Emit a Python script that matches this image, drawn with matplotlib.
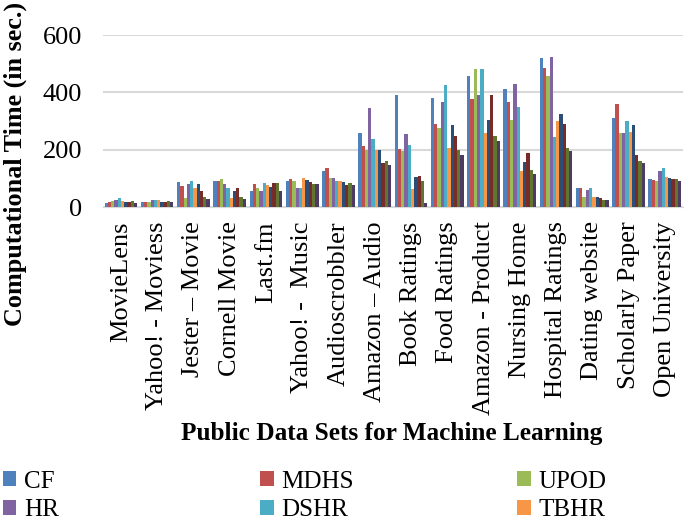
import numpy as np
import matplotlib.pyplot as plt

# data sets on the x axis
datasets = ['MovieLens', 'Yahoo! - Moviess', 'Jester – Movie', 'Cornell Movie',
            'Last.fm', 'Yahoo! -  Music', 'Audioscrobbler', 'Amazon – Audio',
            'Book Ratings', 'Food Ratings', 'Amazon - Product', 'Nursing Home',
            'Hospital Ratings', 'Dating website', 'Scholarly Paper', 'Open University']

# computational time (sec.) per method
cf   = [15, 20, 87, 92, 58, 91, 126, 258, 390, 382, 459, 412, 521, 69, 311, 97]
mdhs = [20, 20, 74, 92, 80, 97, 136, 213, 202, 290, 377, 368, 485, 69, 360, 95]
upod = [23, 20, 32, 100, 66, 90, 101, 201, 195, 275, 480, 305, 459, 35, 260, 91]
hr   = [27, 24, 82, 81, 58, 66, 101, 346, 254, 368, 390, 428, 525, 59, 260, 128]
dshr = [34, 27, 91, 66, 83, 66, 91, 237, 217, 425, 480, 348, 245, 68, 300, 136]
tbhr = [21, 27, 66, 34, 76, 101, 92, 201, 64, 208, 258, 126, 300, 35, 262, 104]
# the remaining four series (their legend entries are cut off in the source)
s7   = [20, 20, 80, 57, 72, 94, 87, 201, 104, 287, 303, 158, 325, 35, 286, 102]
s8   = [20, 20, 58, 67, 85, 89, 77, 153, 108, 249, 390, 188, 290, 33, 183, 100]
s9   = [21, 23, 35, 37, 83, 82, 83, 161, 93, 200, 247, 130, 205, 25, 160, 99]
s10  = [15, 20, 28, 30, 58, 82, 77, 148, 16, 182, 232, 117, 197, 25, 155, 93]

series = [cf, mdhs, upod, hr, dshr, tbhr, s7, s8, s9, s10]
labels = ['CF', 'MDHS', 'UPOD', 'HR', 'DSHR', 'TBHR']
colors = ['#4F81BD', '#C0504D', '#9BBB59', '#8064A2', '#4BACC6', '#F79646',
          '#2C4D75', '#772C2A', '#5F7530', '#4D3B62']

plt.rcParams['font.family'] = 'Liberation Serif'

fig = plt.figure(figsize=(6.85, 5.23), dpi=100)
ax = fig.add_axes([0.150, 0.6036, 0.847, 0.3294])

x = np.arange(len(datasets))
w = 0.09
bars = []
for i, vals in enumerate(series):
    b = ax.bar(x - 0.45 + w * (i + 0.5), vals, width=w, color=colors[i],
               edgecolor='none', zorder=3)
    bars.append(b)

ax.set_xlim(-0.5, len(datasets) - 0.5)
ax.set_ylim(0, 600)
ax.set_yticks([0, 200, 400, 600])
ax.yaxis.grid(True, color='#D9D9D9', linewidth=1.5, zorder=0)
ax.tick_params(axis='y', labelsize=19, length=0, pad=15)
ax.set_xticks(x)
ax.set_xticklabels(datasets, rotation=90, fontsize=19)
ax.tick_params(axis='x', length=0, pad=10)
for s in ['top', 'right', 'left']:
    ax.spines[s].set_visible(False)
ax.spines['bottom'].set_color('#D9D9D9')

fig.text(0.022, 0.686, 'Computational Time (in sec.)', rotation=90,
         fontsize=18.8, fontweight='bold', ha='center', va='center')
fig.text(0.572, 0.172, 'Public Data Sets for Machine Learning',
         fontsize=18.2, fontweight='bold', ha='center', va='center')

# legend: three columns, rows CF MDHS UPOD / HR DSHR TBHR
col_x = [0.004, 0.380, 0.755]
for c in range(3):
    leg = fig.legend([bars[c], bars[c + 3]], [labels[c], labels[c + 3]],
                     loc='upper left', bbox_to_anchor=(col_x[c], 0.1),
                     frameon=False, fontsize=18, handlelength=0.55,
                     handleheight=0.55, handletextpad=0.3, labelspacing=0.27,
                     borderaxespad=0, borderpad=0)

fig.savefig('out.png', dpi=100)
